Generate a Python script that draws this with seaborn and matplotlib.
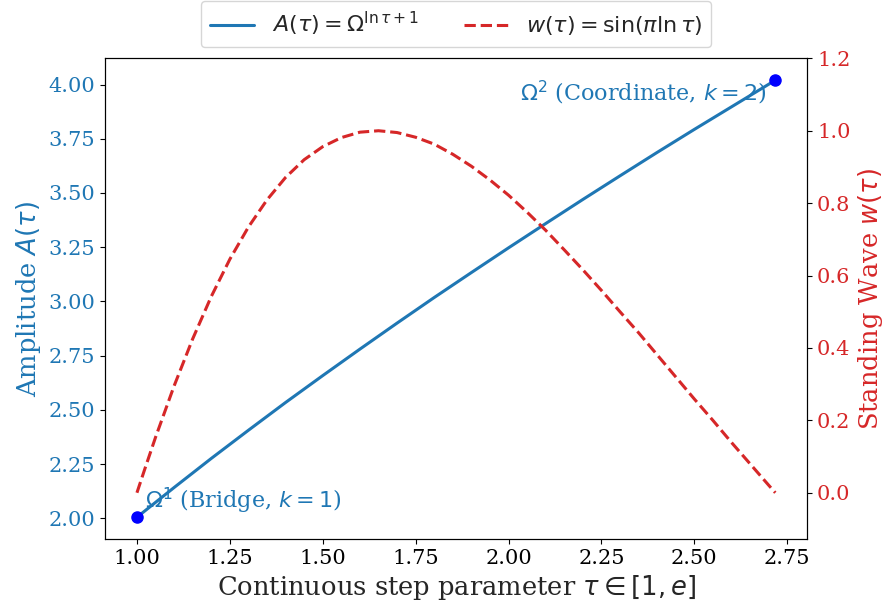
import numpy as np
import pandas as pd
import matplotlib
matplotlib.use('Agg')
import matplotlib.pyplot as plt
import seaborn as sns

# amplitude curve A(tau)
tau_a = [1.0, 1.1, 1.2, 1.3, 1.4, 1.5, 1.6, 1.7, 1.8, 1.9, 2.0,
         2.1, 2.2, 2.3, 2.4, 2.5, 2.6, 2.7, 2.718]
amp = [2.005, 2.142, 2.276, 2.406, 2.534, 2.658, 2.780, 2.900, 3.018, 3.133, 3.247,
       3.359, 3.470, 3.579, 3.687, 3.793, 3.897, 4.001, 4.020]

# standing wave w(tau)
tau_w = [1.0, 1.02, 1.05, 1.1, 1.15, 1.2, 1.25, 1.3, 1.35, 1.4, 1.45, 1.5, 1.55,
         1.6, 1.65, 1.7, 1.75, 1.8, 1.85, 1.9, 1.95, 2.0, 2.05, 2.1, 2.15, 2.2, 2.25,
         2.3, 2.35, 2.4, 2.45, 2.5, 2.55, 2.6, 2.65, 2.7, 2.718]
wave = [0.0, 0.062, 0.153, 0.295, 0.425, 0.542, 0.645, 0.734, 0.809, 0.871, 0.920, 0.956, 0.981,
        0.996, 1.000, 0.995, 0.982, 0.963, 0.935, 0.902, 0.864, 0.822, 0.775, 0.725, 0.671, 0.616, 0.559,
        0.500, 0.442, 0.381, 0.320, 0.259, 0.200, 0.139, 0.080, 0.021, 0.0]

# the two marked points
pt_tau = [1.0, 2.718]
pt_amp = [2.005, 4.020]
pt_labels = [r'$\Omega^1$ (Bridge, $k=1$)', r'$\Omega^2$ (Coordinate, $k=2$)']

blue = '#1f77b4'
red = '#d62728'

sns.set_style('ticks')
plt.rcParams['font.family'] = ['DejaVu Serif']
plt.rcParams['axes.edgecolor'] = 'black'
plt.rcParams['xtick.color'] = 'black'
plt.rcParams['ytick.color'] = 'black'

df_a = pd.DataFrame({'tau': tau_a, 'A': amp})
df_w = pd.DataFrame({'tau': tau_w, 'w': wave})

fig, ax = plt.subplots(figsize=(8.9, 6.14), dpi=100)
fig.subplots_adjust(left=0.118, right=0.907, top=0.905, bottom=0.122)

sns.lineplot(data=df_a, x='tau', y='A', ax=ax, color=blue, lw=2.2, sort=False,
             label=r'$A(\tau) = \Omega^{\ln\tau + 1}$', legend=False)
ax.plot(pt_tau, pt_amp, 'o', color='blue', markersize=8, zorder=5)
ax.annotate(pt_labels[0], (pt_tau[0], pt_amp[0]), xytext=(6, 1), textcoords='offset points',
            ha='left', va='bottom', color=blue, fontsize=16)
ax.annotate(pt_labels[1], (pt_tau[1], pt_amp[1]), xytext=(-6, 1), textcoords='offset points',
            ha='right', va='top', color=blue, fontsize=16)

ax.set_xlabel(r'Continuous step parameter $\tau \in [1, e]$', fontsize=18.5)
ax.set_ylabel(r'Amplitude $A(\tau)$', color=blue, fontsize=18.5)
ax.tick_params(axis='y', labelcolor=blue, labelsize=15)
ax.tick_params(axis='x', labelsize=15)

ax2 = ax.twinx()
sns.lineplot(data=df_w, x='tau', y='w', ax=ax2, color=red, lw=2.2, ls='--', sort=False,
             label=r'$w(\tau) = \sin(\pi \ln\tau)$', legend=False)
ax2.set_ylim(-0.128, 1.2)
ax2.set_ylabel(r'Standing Wave $w(\tau)$', color=red, fontsize=18.5)
ax2.tick_params(axis='y', labelcolor=red, labelsize=15)

h1, l1 = ax.get_legend_handles_labels()
h2, l2 = ax2.get_legend_handles_labels()
fig.legend(h1 + h2, l1 + l2, loc='upper center', ncol=2, fontsize=16,
           bbox_to_anchor=(456 / 890, 1 - 1 / 614), borderaxespad=0)

fig.savefig('out.png', dpi=100)
